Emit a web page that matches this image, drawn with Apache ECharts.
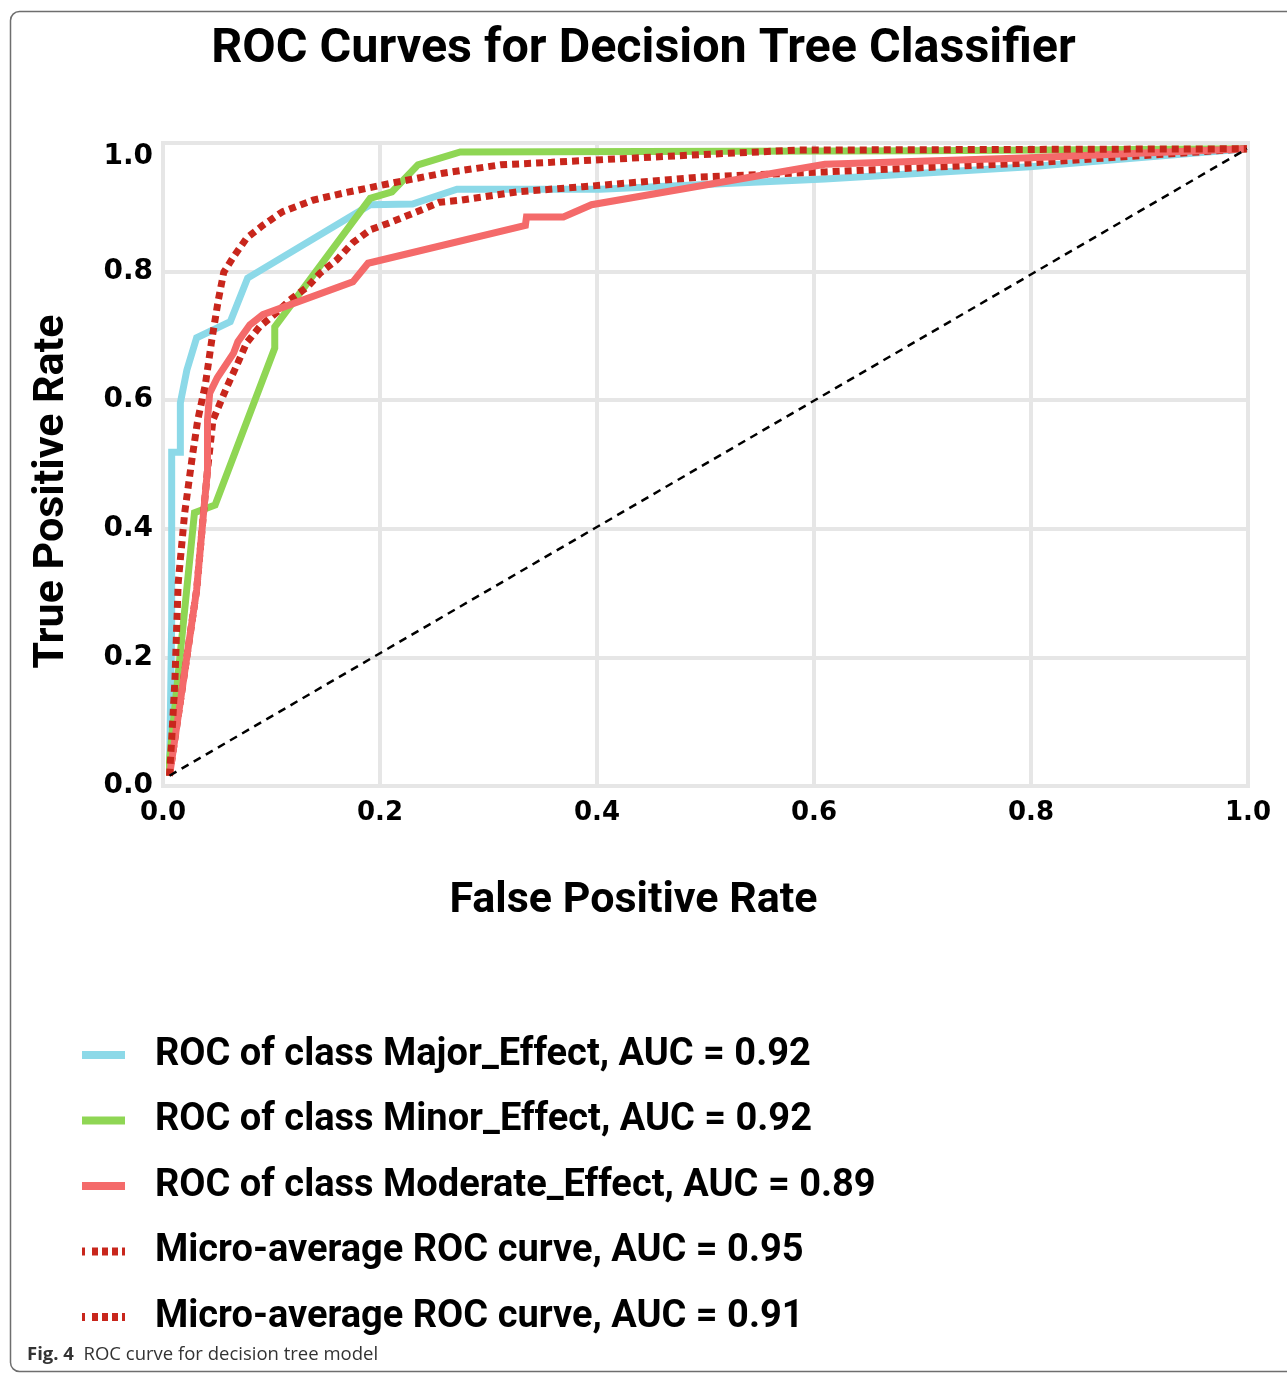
<!DOCTYPE html>
<html>
<head>
<meta charset="utf-8">
<script src="https://cdn.jsdelivr.net/npm/echarts@6/dist/echarts.min.js"></script>
<style>html,body{margin:0;padding:0;background:#fff;}#c{width:1287px;height:1374px;}</style>
</head>
<body>
<div id="c"></div>
<script>
// ---- data (FPR, TPR) ----
const xTicks = [0.0, 0.2, 0.4, 0.6, 0.8, 1.0];
const yTicks = [0.0, 0.2, 0.4, 0.6, 0.8, 1.0];
const seriesNames = [
  'ROC of class Major_Effect, AUC = 0.92',
  'ROC of class Minor_Effect, AUC = 0.92',
  'ROC of class Moderate_Effect, AUC = 0.89',
  'Micro-average ROC curve, AUC = 0.95',
  'Micro-average ROC curve, AUC = 0.91'
];
const majorEffect = [[0.006,0.016],[0.008,0.254],[0.008,0.519],[0.016,0.519],[0.016,0.596],[0.022,0.647],[0.031,0.697],[0.062,0.722],[0.078,0.790],[0.191,0.904],[0.230,0.905],[0.271,0.928],[0.403,0.928],[0.610,0.944],[0.799,0.963],[0.999,0.991]];
const minorEffect = [[0.006,0.016],[0.006,0.040],[0.029,0.425],[0.048,0.437],[0.103,0.681],[0.103,0.714],[0.191,0.914],[0.211,0.924],[0.235,0.966],[0.274,0.986],[0.699,0.988],[0.999,0.991]];
const moderateEffect = [[0.006,0.016],[0.031,0.305],[0.037,0.418],[0.041,0.491],[0.041,0.569],[0.043,0.611],[0.050,0.635],[0.065,0.673],[0.069,0.691],[0.080,0.717],[0.092,0.733],[0.175,0.784],[0.189,0.813],[0.334,0.872],[0.335,0.885],[0.369,0.885],[0.395,0.904],[0.610,0.967],[0.799,0.977],[0.999,0.991]];
const microAvgA = [[0.006,0.016],[0.008,0.072],[0.011,0.165],[0.014,0.316],[0.020,0.425],[0.027,0.512],[0.032,0.569],[0.039,0.624],[0.045,0.694],[0.051,0.756],[0.056,0.799],[0.065,0.823],[0.077,0.852],[0.092,0.872],[0.110,0.893],[0.138,0.911],[0.166,0.922],[0.212,0.938],[0.258,0.953],[0.311,0.966],[0.358,0.970],[0.484,0.981],[0.585,0.989],[0.999,0.991]];
const microAvgB = [[0.006,0.016],[0.031,0.305],[0.037,0.418],[0.041,0.491],[0.046,0.569],[0.059,0.621],[0.069,0.658],[0.077,0.689],[0.089,0.714],[0.105,0.737],[0.117,0.756],[0.133,0.776],[0.145,0.798],[0.160,0.818],[0.175,0.845],[0.191,0.865],[0.209,0.876],[0.234,0.893],[0.255,0.908],[0.274,0.911],[0.326,0.924],[0.387,0.932],[0.495,0.947],[0.610,0.955],[0.799,0.969],[0.999,0.991]];
const chanceLine = [[0.006,0.016],[0.999,0.991]];

const colors = ['#8cd9e8', '#8fd654', '#f46a6a', '#c8261c', '#c8261c'];

const chart = echarts.init(document.getElementById('c'), null, {renderer: 'canvas'});
const FONT = 'Roboto';
const SOLID_ICON = 'path://M0,0H43V8H0Z';
const DOT_ICON = 'path://M0,0H3V8H0Z M10,0H16V8H10Z M20,0H26V8H20Z M30,0H36V8H30Z M40,0H43V8H40Z';
const solid = (name, data, color, z) => ({
  name, type: 'line', data, showSymbol: false, symbol: 'none', z,
  lineStyle: {color, width: 7, type: 'solid', cap: 'butt', join: 'miter'},
  itemStyle: {color}, emphasis: {disabled: true}, animation: false
});
const dotted = (name, data, color, z) => ({
  name, type: 'line', data, showSymbol: false, symbol: 'none', z,
  lineStyle: {color, width: 7, type: [7, 5], cap: 'butt'},
  itemStyle: {color}, emphasis: {disabled: true}, animation: false
});

chart.setOption({
  animation: false,
  backgroundColor: '#fff',
  title: {
    text: 'ROC Curves for Decision Tree Classifier',
    left: 'center', top: 20,
    textStyle: {fontFamily: FONT, fontSize: 48.5, fontWeight: 'bold', color: '#000'}
  },
  grid: {left: 163, right: 39, top: 143, bottom: 588, show: true, borderColor: '#e6e6e6', borderWidth: 4, containLabel: false},
  xAxis: {
    type: 'value', min: 0, max: 1, interval: 0.2,
    name: 'False Positive Rate', nameLocation: 'middle', nameGap: 94,
    nameTextStyle: {fontFamily: FONT, fontSize: 43, fontWeight: 'bold', color: '#000', padding: [0, 144, 0, 0]},
    axisLine: {show: false}, axisTick: {show: false},
    axisLabel: {margin: 14, fontFamily: 'DejaVu Sans', fontWeight: 'bold', fontSize: 26, color: '#000',
      formatter: v => xTicks.find(t => Math.abs(t - v) < 1e-9).toFixed(1)},
    splitLine: {show: true, lineStyle: {color: '#e6e6e6', width: 4}}
  },
  yAxis: {
    type: 'value', min: 0, max: 1, interval: 0.2,
    name: 'True Positive Rate', nameLocation: 'middle', nameGap: 89, nameRotate: 90,
    nameTextStyle: {fontFamily: FONT, fontSize: 43, fontWeight: 'bold', color: '#000', padding: [0, 54, 0, 0]},
    axisLine: {show: false}, axisTick: {show: false},
    axisLabel: {margin: 10, fontFamily: 'DejaVu Sans', fontWeight: 'bold', fontSize: 28, color: '#000',
      verticalAlignMaxLabel: 'top',
      formatter: v => yTicks.find(t => Math.abs(t - v) < 1e-9).toFixed(1)},
    splitLine: {show: true, lineStyle: {color: '#e6e6e6', width: 4}}
  },
  legend: {
    orient: 'vertical', left: 82, top: 1036, padding: 0,
    itemWidth: 43, itemHeight: 8, itemGap: 27.5,
    selectedMode: false,
    itemStyle: {borderWidth: 0},
    data: [
      {name: seriesNames[0], icon: SOLID_ICON},
      {name: seriesNames[1], icon: SOLID_ICON},
      {name: seriesNames[2], icon: SOLID_ICON},
      {name: seriesNames[3], icon: DOT_ICON},
      {name: seriesNames[4], icon: DOT_ICON}
    ],
    textStyle: {fontFamily: FONT, fontSize: 38, fontWeight: 'bold', color: '#000', padding: [0, 0, 0, 25], lineHeight: 38}
  },
  graphic: [
    {type: 'rect', silent: true, z: -10, shape: {x: 10.5, y: 11.5, width: 1320, height: 1360, r: 9},
      style: {fill: 'none', stroke: '#6e6e6e', lineWidth: 1.5}},
    {type: 'text', left: 27, top: 1345, silent: true,
      style: {text: '{b|Fig. 4}  ROC curve for decision tree model', fontFamily: 'Open Sans', fontSize: 18.5, fill: '#333',
        rich: {b: {fontFamily: 'Open Sans', fontWeight: 'bold', fontSize: 18.5, fill: '#333'}}}}
  ],
  series: [
    solid(seriesNames[0], majorEffect, colors[0], 2),
    solid(seriesNames[1], minorEffect, colors[1], 3),
    dotted(seriesNames[4], microAvgB, colors[4], 4),
    solid(seriesNames[2], moderateEffect, colors[2], 5),
    dotted(seriesNames[3], microAvgA, colors[3], 6),
    {type: 'line', data: chanceLine, showSymbol: false, symbol: 'none', z: 7, silent: true,
      lineStyle: {color: '#000', width: 2.5, type: [8, 6]}, emphasis: {disabled: true}}
  ]
});
</script>
</body>
</html>
